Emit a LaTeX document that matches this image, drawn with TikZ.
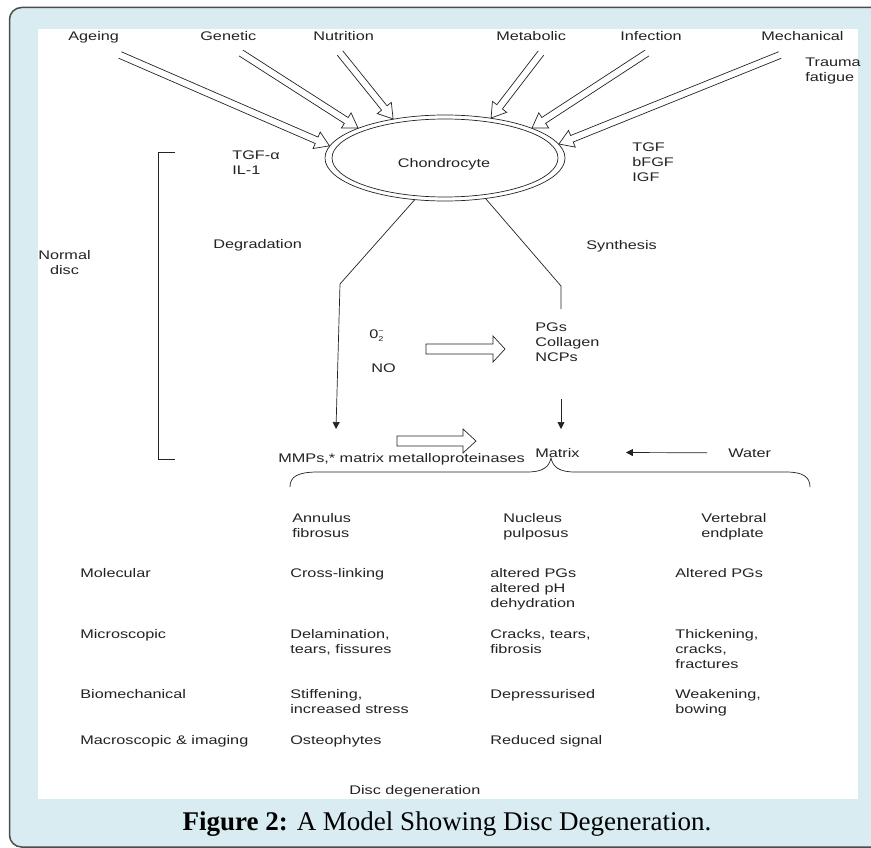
\documentclass[tikz,border=0pt]{standalone}
\usepackage{fontspec}
\setmainfont{Liberation Sans}
\newfontfamily\diagfont{Liberation Sans}[FakeStretch=1.3]
\newfontfamily\capfont{Liberation Serif}
\usetikzlibrary{arrows.meta,calc,shapes.geometric}
\definecolor{panelblue}{RGB}{216,236,241}
\definecolor{inkgray}{RGB}{35,35,35}

\tikzset{
  lbl/.style={inner sep=0pt, anchor=base west, align=left, text=inkgray},
  darr/.style={-{Triangle[length=7pt,width=7pt]}},
  hollow/.style={line width=0.7pt, line join=miter},
}

% open arrow: [path end] {tail} {tip} {shaft half width} {head half width} {head length}
\newcommand{\hollowarrow}[6][]{%
  \coordinate (ha-n) at ($(#3)!#6!(#2)$);
  \draw[hollow] ($(#2)!#4!-90:(#3)$) -- ($(ha-n)!#4!90:(#2)$) -- ($(ha-n)!#5!90:(#2)$)
    -- (#3) -- ($(ha-n)!#5!-90:(#2)$) -- ($(ha-n)!#4!-90:(#2)$) -- ($(#2)!#4!90:(#3)$) #1;
}

\begin{document}
\begin{tikzpicture}[x=1pt, y=-1pt, line width=0.7pt, draw=inkgray,
  font=\diagfont\fontsize{12.5}{15}\selectfont]
\useasboundingbox (0,0) rectangle (871,848);
\clip (0,0) rectangle (871,848);
% panel
\draw[fill=panelblue, draw=black!70, line width=1.5pt, rounded corners=12pt] (9.5,7.5) rectangle (900,847);
\fill[white] (38,29) rectangle (858,799);

% causes (multi-line nodes sit on their last baseline)
\node[lbl] (ageing) at (68,41) {Ageing};
\node[lbl] (genetic) at (200,41) {Genetic};
\node[lbl] (nutrition) at (313,41) {Nutrition};
\node[lbl] (metabolic) at (496,41) {Metabolic};
\node[lbl] (infection) at (620,41) {Infection};
\node[lbl] (mechanical) at (761,41) {Mechanical};
\node[lbl] (trauma) at (805,82) {Trauma\\fatigue};

% chondrocyte
\node[ellipse, draw, minimum width=240pt, minimum height=86pt, inner sep=0pt] (chon) at (445,158) {};
\draw (chon.center) ellipse [x radius=113pt, y radius=39pt];
\node[inner sep=0pt, anchor=base, text=inkgray] (chonlbl) at (444,168) {Chondrocyte};

\coordinate (ageing-t) at (120,55);
\coordinate (genetic-t) at (241,53);
\coordinate (nutrition-t) at (340,53);
\coordinate (metabolic-t) at (541,53);
\coordinate (infection-t) at (647,53);
\coordinate (mechanical-t) at (780,55);
\hollowarrow{ageing-t}{chon.174}{3.5pt}{9pt}{14pt}
\hollowarrow{genetic-t}{chon.161}{3.5pt}{9pt}{14pt}
\hollowarrow{nutrition-t}{chon.143}{3.5pt}{9pt}{14pt}
\hollowarrow{metabolic-t}{chon.41}{3.5pt}{9pt}{14pt}
\hollowarrow{infection-t}{chon.19}{3.5pt}{9pt}{14pt}
\hollowarrow{mechanical-t}{chon.7}{3.5pt}{9pt}{14pt}

% factors
\node[lbl] (tgfa) at (232,175) {TGF-α\\IL-1};
\node[lbl] (tgf) at (632,182) {TGF\\bFGF\\IGF};

% normal disc bracket
\node[inner sep=0pt, anchor=base, align=center, text=inkgray] (normal) at (64.5,274) {Normal\\disc};
\draw (175,152) -- (158,152) -- (158,459) -- (175,459);

% degradation and synthesis
\node[lbl] (degr) at (213,248) {Degradation};
\node[lbl] (synth) at (586,250) {Synthesis};
\coordinate (dbend) at (340,284);
\coordinate (dend) at (336,429);
\draw[darr] (chon.234) -- (dbend) -- (dend);
\coordinate (sbend) at (561,286);
\coordinate (send) at (561,309);
\draw (chon.-45) -- (sbend) -- (send);

\node[lbl] (otwo) at (369,338) {0\raisebox{-3pt}{\scriptsize\shortstack[l]{−\\2}}};
\node[lbl] (no) at (371,372) {NO};
\node[lbl] (pgs) at (535,361) {PGs\\Collagen\\NCPs};
\coordinate (ro-t) at (426,349);
\coordinate (ro-h) at (505,349);
\hollowarrow[-- cycle]{ro-t}{ro-h}{5pt}{13pt}{12pt}

% matrix
\node[lbl] (mmps) at (278,462) {MMPs,* matrix metalloproteinases};
\node[lbl] (matrix) at (535,457) {Matrix};
\node[lbl] (water) at (728,457) {Water};
\coordinate (mmp-t) at (397,441);
\coordinate (mmp-h) at (476,441);
\hollowarrow[-- cycle]{mmp-t}{mmp-h}{5pt}{12pt}{13pt}
\coordinate (pgsout) at (561,399);
\coordinate (matrixin) at (561,429);
\draw[darr] (pgsout) -- (matrixin);
\draw[darr] ([xshift=-21pt]water.west) -- ([xshift=46pt]matrix.east);

% brace
\draw (290,487) .. controls (290,477) and (297,472) .. (318,472) -- (527,472)
  .. controls (543,472) and (549,467) .. (551,458)
  .. controls (553,467) and (559,472) .. (575,472) -- (786,472)
  .. controls (803,472) and (810,477) .. (810,487);

% tissues
\node[lbl] (annulus) at (292,537) {Annulus\\fibrosus};
\node[lbl] (nucleus) at (503,537) {Nucleus\\pulposus};
\node[lbl] (vertebral) at (701,537) {Vertebral\\endplate};

% levels
\node[lbl] (molec) at (80,577) {Molecular};
\node[lbl] at (290,577) {Cross-linking};
\node[lbl] at (490,607) {altered PGs\\altered pH\\dehydration};
\node[lbl] at (675,577) {Altered PGs};

\node[lbl] (micro) at (80,638) {Microscopic};
\node[lbl] at (290,653) {Delamination,\\tears, fissures};
\node[lbl] at (490,653) {Cracks, tears,\\fibrosis};
\node[lbl] at (675,668) {Thickening,\\cracks,\\fractures};

\node[lbl] (biomech) at (80,698) {Biomechanical};
\node[lbl] at (290,713) {Stiffening,\\increased stress};
\node[lbl] at (490,698) {Depressurised};
\node[lbl] at (675,713) {Weakening,\\bowing};

\node[lbl] (macro) at (80,744) {Macroscopic \& imaging};
\node[lbl] at (290,744) {Osteophytes};
\node[lbl] at (490,744) {Reduced signal};

\node[lbl] (discdeg) at (349,794) {Disc degeneration};

% caption
\node[inner sep=0pt, anchor=base, font=\capfont\fontsize{27}{30}\selectfont] (caption) at (447,830)
  {\textbf{Figure 2:} A Model Showing Disc Degeneration.};
\end{tikzpicture}
\end{document}
